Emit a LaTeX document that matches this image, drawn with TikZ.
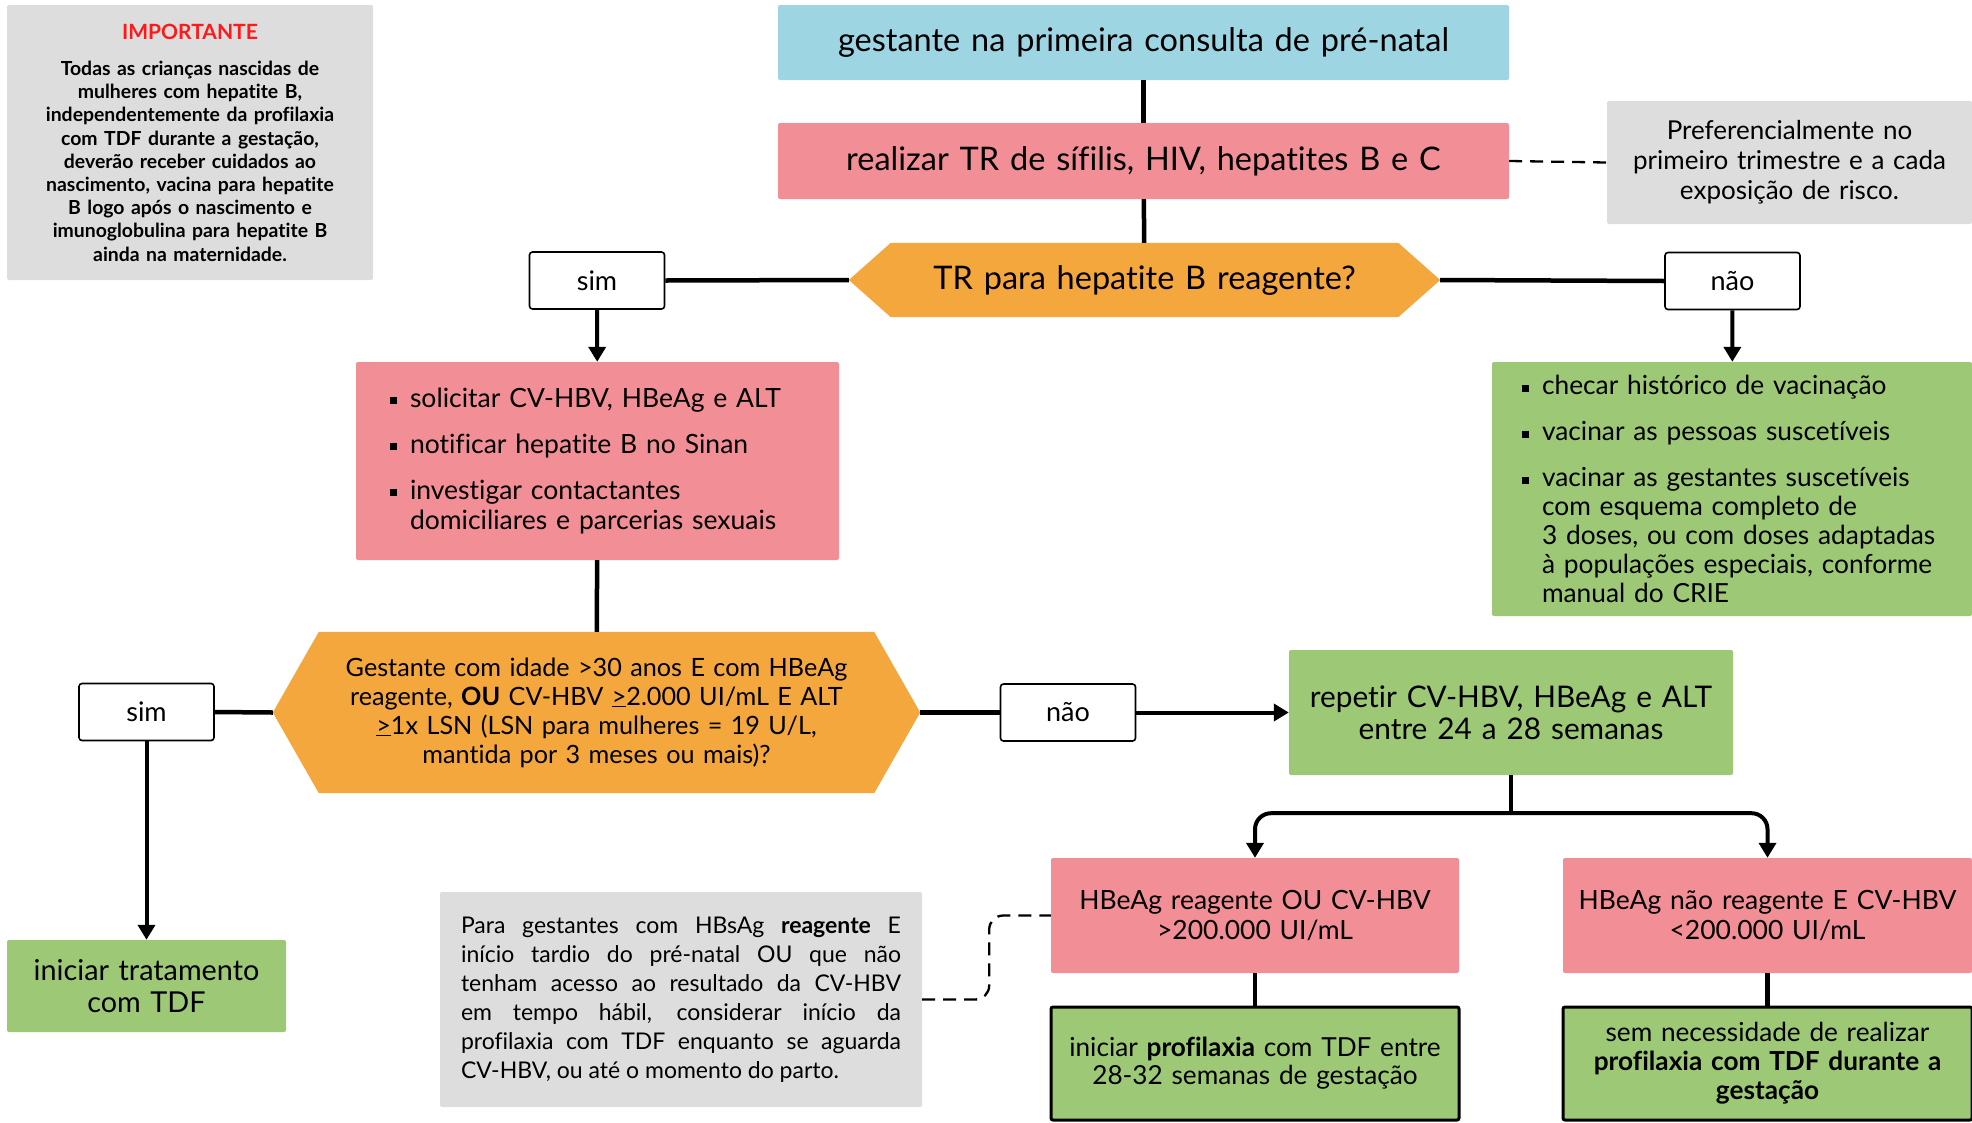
\documentclass[tikz,border=0pt]{standalone}
\usepackage{fontspec}
\setmainfont{Lato}[Ligatures=NoCommon]
\usetikzlibrary{arrows.meta, calc, backgrounds}
\definecolor{startblue}{HTML}{9DD5E3}
\definecolor{testpink}{HTML}{F28E96}
\definecolor{askorange}{HTML}{F4A73D}
\definecolor{actgreen}{HTML}{9DC876}
\definecolor{notegray}{HTML}{DDDDDD}
\definecolor{alertred}{HTML}{FF1A1A}

% bullet item with hanging indent
\newcommand{\bul}[1]{\hangindent=20pt\hangafter=1\noindent\makebox[20pt][l]{\rule[3pt]{7pt}{7pt}}#1\par}

\begin{document}
\begin{tikzpicture}[x=1pt, y=-1pt,
    box/.style={rectangle, rounded corners=2pt, inner sep=0pt, align=center},
    answer/.style={draw, line width=1.6pt, fill=white, rounded corners=3pt, inner sep=0pt,
      minimum width=135pt, minimum height=57pt, font=\fontsize{27}{30}\selectfont},
    link/.style={line width=4.5pt},
    arr/.style={line width=4pt, -{Triangle[width=17pt,length=15pt]}},
    aside/.style={line width=2.3pt, dash pattern=on 13pt off 8pt},
  ]
  \useasboundingbox (0,0) rectangle (1972,1122);

  % Important note
  \node[box, fill=notegray, minimum width=366pt, minimum height=275pt, text width=350pt,
    font=\bfseries\fontsize{19.4}{23.2}\selectfont] (important) at (190,142.5)
    {{\color{alertred}\fontsize{21}{24}\selectfont IMPORTANTE}\\[13pt]
     Todas as crianças nascidas de\\ mulheres com hepatite B,\\ independentemente da profilaxia\\
     com TDF durante a gestação,\\ deverão receber cuidados ao\\ nascimento, vacina para hepatite\\
     B logo após o nascimento e\\ imunoglobulina para hepatite B\\ ainda na maternidade.};

  % Top of the flow
  \node[box, fill=startblue, minimum width=731pt, minimum height=75pt, text width=720pt,
    font=\fontsize{32.5}{36}\selectfont] (start) at (1143.5,42.5) {gestante na primeira consulta de pré-natal};
  \node[box, fill=testpink, minimum width=731pt, minimum height=76pt, text width=720pt,
    font=\fontsize{32.5}{36}\selectfont] (tests) at (1143.5,161) {realizar TR de sífilis, HIV, hepatites B e C};
  \node[box, fill=notegray, minimum width=365pt, minimum height=123pt, text width=355pt,
    font=\fontsize{26}{30}\selectfont] (timing) at (1789.5,162.5)
    {Preferencialmente no\\ primeiro trimestre e a cada\\ exposição de risco.};

  % First question
  \node[box, minimum width=591pt, minimum height=74pt, text width=500pt,
    font=\fontsize{32.5}{36}\selectfont] (hbtest) at (1144.5,280) {TR para hepatite B reagente?};
  \node[answer] (yes1) at (597,280.5) {sim};
  \node[answer] (no1) at (1732.5,281) {não};

  % Positive branch
  \node[box, fill=testpink, minimum width=483pt, minimum height=198pt, text width=415pt, align=left,
    font=\fontsize{26.5}{30}\selectfont] (posact) at (597.5,461)
    {\bul{solicitar CV-HBV, HBeAg e ALT}\vspace{16pt}
     \bul{notificar hepatite B no Sinan}\vspace{16pt}
     \bul{investigar contactantes\newline domiciliares e parcerias sexuais}};

  % Negative branch
  \node[box, fill=actgreen, minimum width=480pt, minimum height=254pt, text width=420pt, align=left,
    font=\fontsize{26.3}{29}\selectfont] (negact) at (1732,489)
    {\bul{checar histórico de vacinação}\vspace{17pt}
     \bul{vacinar as pessoas suscetíveis}\vspace{17pt}
     \bul{vacinar as gestantes suscetíveis\newline com esquema completo de\newline 3 doses, ou com doses adaptadas\newline
       à populações especiais, conforme\newline manual do CRIE}};

  % Second question
  \node[box, minimum width=647pt, minimum height=161pt, text width=560pt,
    font=\fontsize{25.2}{29}\selectfont] (criteria) at (596.5,712.5)
    {Gestante com idade >30 anos E com HBeAg\\ reagente, \textbf{OU} CV-HBV \underline{>}2.000 UI/mL E ALT\\
     \underline{>}1x LSN (LSN para mulheres = 19 U/L,\\ mantida por 3 meses ou mais)?};
  \node[answer] (yes2) at (146.5,712) {sim};
  \node[answer] (no2) at (1068,712.5) {não};
  \node[box, fill=actgreen, minimum width=279pt, minimum height=92pt, text width=272pt,
    font=\fontsize{28.8}{32}\selectfont] (treat) at (146.5,986) {iniciar tratamento\\ com TDF};
  \node[box, fill=actgreen, minimum width=444pt, minimum height=125pt, text width=434pt,
    font=\fontsize{29.8}{32}\selectfont] (repeat) at (1511,712.5)
    {repetir CV-HBV, HBeAg e ALT\\ entre 24 a 28 semanas};

  % Results
  \node[box, fill=testpink, minimum width=408pt, minimum height=115pt, text width=400pt,
    font=\fontsize{26.5}{30}\selectfont] (high) at (1255,915.5) {HBeAg reagente OU CV-HBV\\ >200.000 UI/mL};
  \node[box, fill=testpink, minimum width=409pt, minimum height=115pt, text width=400pt,
    font=\fontsize{26.5}{30}\selectfont] (low) at (1767.5,915.5) {HBeAg não reagente E CV-HBV\\ <200.000 UI/mL};
  \node[box, draw, line width=3pt, fill=actgreen, minimum width=408pt, minimum height=113pt, text width=400pt,
    font=\fontsize{26.2}{28}\selectfont] (prophy) at (1255,1063.5)
    {iniciar \textbf{profilaxia} com TDF entre\\ 28-32 semanas de gestação};
  \node[box, draw, line width=3pt, fill=actgreen, minimum width=409pt, minimum height=113pt, text width=400pt,
    font=\fontsize{26.2}{29}\selectfont] (noprophy) at (1767.5,1063.5)
    {sem necessidade de realizar\\ \textbf{profilaxia com TDF durante a}\\ \textbf{gestação}};

  % Late start note
  \node[box, fill=notegray, minimum width=482pt, minimum height=215pt, text width=440pt, align=justify,
    font=\fontsize{23}{29}\selectfont] (late) at (681,999.5)
    {Para gestantes com HBsAg \textbf{reagente} E\linebreak
     início tardio do pré-natal OU que não\linebreak
     tenham acesso ao resultado da CV-HBV\linebreak
     em tempo hábil, considerar início da\linebreak
     profilaxia com TDF enquanto se aguarda\linebreak
     CV-HBV, ou até o momento do parto.};

  % Hexagons behind the questions
  \begin{scope}[on background layer]
    \fill[askorange] (hbtest.west) -- ([xshift=42pt]hbtest.north west) -- ([xshift=-42pt]hbtest.north east)
      -- (hbtest.east) -- ([xshift=-42pt]hbtest.south east) -- ([xshift=42pt]hbtest.south west) -- cycle;
    \fill[askorange] (criteria.west) -- ([xshift=46pt]criteria.north west) -- ([xshift=-46pt]criteria.north east)
      -- (criteria.east) -- ([xshift=-46pt]criteria.south east) -- ([xshift=46pt]criteria.south west) -- cycle;
  \end{scope}

  % Connections
  \draw[link] (start) -- (tests);
  \draw[link] (tests) -- (hbtest);
  \draw[aside] (tests.east) -- (timing.west);
  \draw[link] (hbtest.west) -- (yes1.east);
  \draw[link] (hbtest.east) -- (no1.west);
  \draw[arr] (yes1) -- (posact);
  \draw[arr] (no1) -- (negact);
  \draw[link] (posact) -- (criteria);
  \draw[link] (criteria.west) -- (yes2.east);
  \draw[link] (criteria.east) -- (no2.west);
  \draw[arr] (no2) -- (repeat);
  \draw[arr] (yes2) -- (treat);
  \draw[link] (repeat.south) -- ++(0,38) coordinate (split);
  \draw[arr, rounded corners=16pt] (split) -| (high.north);
  \draw[arr, rounded corners=16pt] (split) -| (low.north);
  \draw[link] (high) -- (prophy);
  \draw[link] (low) -- (noprophy);
  \draw[aside, rounded corners=14pt] (late.east) -- ++(67,0) |- (high.west);
\end{tikzpicture}
\end{document}
